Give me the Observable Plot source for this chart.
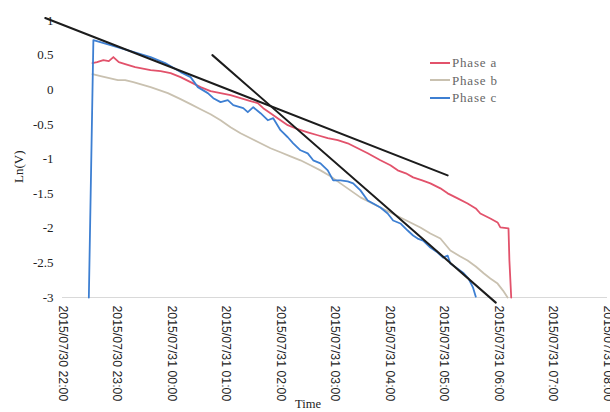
<!DOCTYPE html>
<html><head><meta charset="utf-8">
<script src="https://cdn.jsdelivr.net/npm/d3@7"></script>
<script src="https://cdn.jsdelivr.net/npm/@observablehq/plot@0.6"></script>
<style>
body{margin:0;background:#fff;}
#wrap{position:relative;width:610px;height:412px;overflow:hidden;background:#fff;}
#legend{position:absolute;left:430px;top:54px;font-family:"Liberation Serif",serif;font-size:13px;color:#666;letter-spacing:0.8px;line-height:17.5px;}
#legend .it{display:flex;align-items:center;white-space:nowrap;}
#legend .sw{display:inline-block;width:20px;height:2px;margin-right:2px;}
</style>
</head><body>
<div id="wrap"><div id="chart"></div><div id="legend"></div></div>
<script>
const seriesNames = ["Phase a", "Phase b", "Phase c"];
const seriesColors = ["#e2526b", "#c9c1b0", "#3d7fd2"];

const timesA = ["2015/07/30 22:33","2015/07/30 22:38","2015/07/30 22:45","2015/07/30 22:51","2015/07/30 22:56","2015/07/30 23:02","2015/07/30 23:09","2015/07/30 23:20","2015/07/30 23:37","2015/07/30 23:48","2015/07/30 23:59",
"2015/07/31 00:10","2015/07/31 00:21","2015/07/31 00:32","2015/07/31 00:43","2015/07/31 00:54","2015/07/31 01:05","2015/07/31 01:16","2015/07/31 01:27","2015/07/31 01:35","2015/07/31 01:41","2015/07/31 01:49",
"2015/07/31 02:00","2015/07/31 02:08","2015/07/31 02:19","2015/07/31 02:30","2015/07/31 02:41","2015/07/31 02:52","2015/07/31 03:03","2015/07/31 03:14","2015/07/31 03:25","2015/07/31 03:36","2015/07/31 03:50",
"2015/07/31 04:01","2015/07/31 04:09","2015/07/31 04:18","2015/07/31 04:26","2015/07/31 04:36","2015/07/31 04:45","2015/07/31 04:56","2015/07/31 05:04","2015/07/31 05:15","2015/07/31 05:26","2015/07/31 05:35",
"2015/07/31 05:40","2015/07/31 05:51","2015/07/31 05:59","2015/07/31 06:02","2015/07/31 06:11","2015/07/31 06:12","2015/07/31 06:14"];
const valuesA = [0.385,0.399,0.428,0.414,0.472,0.399,0.370,0.327,0.284,0.269,0.240,
0.182,0.110,0.038,-0.020,-0.049,-0.078,-0.122,-0.165,-0.194,-0.266,-0.339,
-0.440,-0.512,-0.570,-0.614,-0.657,-0.700,-0.729,-0.773,-0.845,-0.917,-1.019,
-1.091,-1.164,-1.207,-1.265,-1.308,-1.352,-1.424,-1.496,-1.569,-1.642,-1.714,
-1.787,-1.859,-1.916,-1.988,-2.003,-2.466,-3.00];

const timesB = ["2015/07/30 22:33","2015/07/30 22:42","2015/07/30 23:01","2015/07/30 23:09","2015/07/30 23:18","2015/07/30 23:37","2015/07/30 23:56",
"2015/07/31 00:10","2015/07/31 00:21","2015/07/31 00:32","2015/07/31 00:43","2015/07/31 00:54","2015/07/31 01:05","2015/07/31 01:16","2015/07/31 01:27","2015/07/31 01:38","2015/07/31 01:49",
"2015/07/31 02:00","2015/07/31 02:11","2015/07/31 02:22","2015/07/31 02:33","2015/07/31 02:44","2015/07/31 02:55","2015/07/31 03:06","2015/07/31 03:17","2015/07/31 03:28","2015/07/31 03:39","2015/07/31 03:50",
"2015/07/31 04:01","2015/07/31 04:12","2015/07/31 04:23","2015/07/31 04:34","2015/07/31 04:45","2015/07/31 04:56","2015/07/31 05:07","2015/07/31 05:18","2015/07/31 05:26","2015/07/31 05:35","2015/07/31 05:44",
"2015/07/31 05:51","2015/07/31 05:59","2015/07/31 06:05","2015/07/31 06:10"];
const valuesB = [0.226,0.197,0.139,0.139,0.110,0.038,-0.049,
-0.136,-0.208,-0.281,-0.353,-0.440,-0.541,-0.628,-0.700,-0.773,-0.845,
-0.903,-0.961,-1.019,-1.091,-1.164,-1.250,-1.352,-1.453,-1.554,-1.627,-1.700,
-1.772,-1.844,-1.917,-1.989,-2.075,-2.148,-2.321,-2.408,-2.466,-2.553,-2.654,
-2.726,-2.799,-2.900,-3.00];

const timesC = ["2015/07/30 22:29","2015/07/30 22:34","2015/07/30 22:53","2015/07/30 23:15","2015/07/30 23:37","2015/07/30 23:53",
"2015/07/31 00:10","2015/07/31 00:21","2015/07/31 00:29","2015/07/31 00:40","2015/07/31 00:46","2015/07/31 00:54","2015/07/31 01:02","2015/07/31 01:08","2015/07/31 01:19","2015/07/31 01:24","2015/07/31 01:30","2015/07/31 01:38","2015/07/31 01:46","2015/07/31 01:52",
"2015/07/31 02:00","2015/07/31 02:08","2015/07/31 02:14","2015/07/31 02:22","2015/07/31 02:30","2015/07/31 02:36","2015/07/31 02:44","2015/07/31 02:52","2015/07/31 02:58","2015/07/31 03:06","2015/07/31 03:14","2015/07/31 03:20","2015/07/31 03:28","2015/07/31 03:36","2015/07/31 03:42","2015/07/31 03:50","2015/07/31 03:58",
"2015/07/31 04:04","2015/07/31 04:12","2015/07/31 04:20","2015/07/31 04:26","2015/07/31 04:31","2015/07/31 04:37","2015/07/31 04:45","2015/07/31 04:53","2015/07/31 04:59","2015/07/31 05:04","2015/07/31 05:07","2015/07/31 05:15","2015/07/31 05:21","2015/07/31 05:27","2015/07/31 05:32","2015/07/31 05:35"];
const valuesC = [-3.00,0.718,0.645,0.558,0.472,0.385,
0.255,0.182,0.038,-0.049,-0.122,-0.179,-0.151,-0.223,-0.266,-0.324,-0.252,-0.339,-0.440,-0.411,
-0.584,-0.686,-0.773,-0.874,-0.918,-1.019,-1.063,-1.164,-1.308,-1.308,-1.323,-1.352,-1.453,-1.598,-1.642,-1.700,-1.786,
-1.888,-1.931,-2.033,-2.105,-2.149,-2.178,-2.279,-2.351,-2.424,-2.395,-2.510,-2.583,-2.641,-2.728,-2.858,-2.988];

// hand-drawn straight fit lines
const fit1Times = ["2015/07/30 21:41","2015/07/31 05:04"];
const fit1Values = [1.036,-1.236];
const fit2Times = ["2015/07/31 00:45","2015/07/31 05:57"];
const fit2Values = [0.50,-3.074];

const xTicks = ["2015/07/30 22:00","2015/07/30 23:00","2015/07/31 00:00","2015/07/31 01:00","2015/07/31 02:00","2015/07/31 03:00","2015/07/31 04:00","2015/07/31 05:00","2015/07/31 06:00","2015/07/31 07:00","2015/07/31 08:00"];
const yTicks = [-3,-2.5,-2,-1.5,-1,-0.5,0,0.5,1];

const parse = d3.utcParse("%Y/%m/%d %H:%M");
const fmt = d3.utcFormat("%Y/%m/%d %H:%M");

const seriesTimes = [timesA, timesB, timesC];
const seriesValues = [valuesA, valuesB, valuesC];
const rows = seriesNames.flatMap((name, i) =>
  seriesTimes[i].map((t, j) => ({phase: name, time: parse(t), v: seriesValues[i][j]})));
const fits = [[fit1Times, fit1Values], [fit2Times, fit2Values]].flatMap(([ts, vs], k) =>
  ts.map((t, j) => ({id: k, time: parse(t), v: vs[j]})));

const chart = Plot.plot({
  width: 610,
  height: 412,
  marginLeft: 62,
  marginRight: 3,
  marginTop: 20,
  marginBottom: 115,
  style: {background: "#fff", overflow: "visible"},
  x: {type: "utc", domain: [parse(xTicks[0]), parse(xTicks[xTicks.length - 1])]},
  y: {domain: [-3, 1], axis: null},
  color: {domain: seriesNames, range: seriesColors},
  marks: [
    Plot.ruleY([-3], {stroke: "#d9d9d9", strokeWidth: 1}),
    Plot.text(yTicks, {y: d => d, text: d => String(d), frameAnchor: "left", dx: -9, textAnchor: "end",
      fontFamily: "Liberation Serif", fontSize: 13, fill: "#222"}),
    Plot.axisX({ticks: xTicks.map(parse), tickSize: 0, tickPadding: 8, tickRotate: 90, tickFormat: fmt, label: null,
      fontFamily: "Liberation Sans", fontSize: 12.3, fill: "#222"}),
    Plot.line(rows, {x: "time", y: "v", z: "phase", stroke: "phase", strokeWidth: 1.8, curve: "linear"}),
    Plot.line(fits, {x: "time", y: "v", z: "id", stroke: "#1c1c1c", strokeWidth: 2}),
    Plot.text(["Ln(V)"], {frameAnchor: "left", dx: -44, dy: 24, rotate: -90, fontFamily: "Liberation Serif", fontSize: 13, fill: "#222"}),
    Plot.text(["Time"], {frameAnchor: "bottom", dx: -27, dy: 102, lineAnchor: "top", fontFamily: "Liberation Serif", fontSize: 12.5, fill: "#222"})
  ]
});
document.getElementById("chart").appendChild(chart);

const legend = document.getElementById("legend");
seriesNames.forEach((n, i) => {
  const it = document.createElement("div");
  it.className = "it";
  const sw = document.createElement("span");
  sw.className = "sw";
  sw.style.background = seriesColors[i];
  it.appendChild(sw);
  it.appendChild(document.createTextNode(n));
  legend.appendChild(it);
});
</script>
</body></html>
